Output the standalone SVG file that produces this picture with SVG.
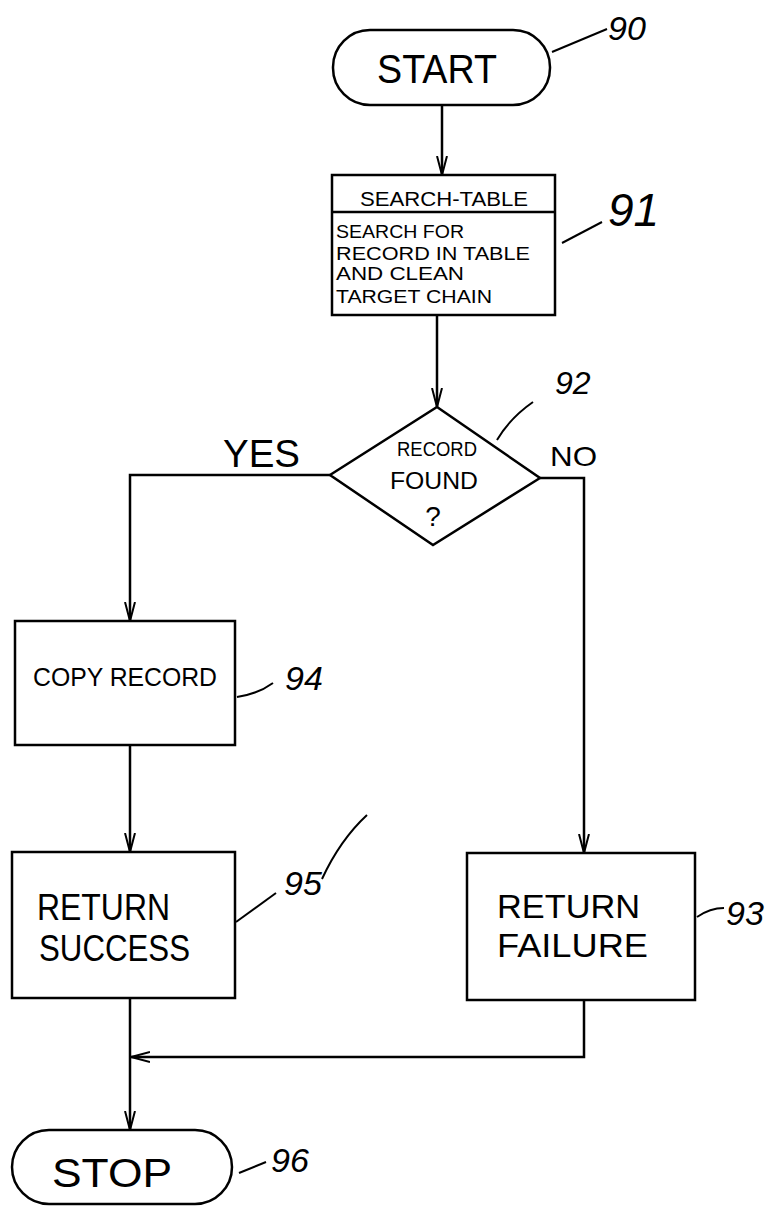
<svg xmlns="http://www.w3.org/2000/svg" width="768" height="1209" viewBox="0 0 768 1209">
<style>
.shape{fill:none;stroke:#000;stroke-width:2.5}
.conn{fill:none;stroke:#000;stroke-width:2.5}
.lead{fill:none;stroke:#000;stroke-width:2}
text{font-family:"Liberation Sans",Arial,sans-serif;fill:#000}
.ref{font-style:italic}
</style>
<defs>
<marker id="arr" viewBox="0 0 20 12" markerWidth="20" markerHeight="12" refX="19" refY="6" orient="auto" markerUnits="userSpaceOnUse">
<path d="M0,1 L19,6 L0,11" fill="none" stroke="#000" stroke-width="2"/>
</marker>
</defs>
<rect width="768" height="1209" fill="#fff"/>
<g id="connectors">
<path class="conn" d="M442,105 V175" marker-end="url(#arr)"/>
<path class="conn" d="M437,315 V407" marker-end="url(#arr)"/>
<path class="conn" d="M330,475 H130 V621" marker-end="url(#arr)"/>
<path class="conn" d="M540,478 H584 V853" marker-end="url(#arr)"/>
<path class="conn" d="M130,745 V852" marker-end="url(#arr)"/>
<path class="conn" d="M130,998 V1130" marker-end="url(#arr)"/>
<path class="conn" d="M584,1000 V1057 H131" marker-end="url(#arr)"/>
</g>
<g id="labels">
<text x="223" y="467" font-size="38" textLength="77" lengthAdjust="spacingAndGlyphs">YES</text>
<text x="550" y="466" font-size="28" textLength="47" lengthAdjust="spacingAndGlyphs">NO</text>
</g>
<g id="n90">
<rect class="shape" x="333" y="30" width="217" height="75" rx="37" ry="37"/>
<text x="377" y="83" font-size="40" textLength="120" lengthAdjust="spacingAndGlyphs">START</text>
<path class="lead" d="M552,52 L607,29"/>
<text class="ref" x="608" y="40" font-size="34">90</text>
</g>
<g id="n91">
<rect class="shape" x="332" y="175" width="223" height="140"/>
<line class="shape" x1="332" y1="212" x2="555" y2="212"/>
<text x="360" y="206" font-size="20" textLength="168" lengthAdjust="spacingAndGlyphs">SEARCH-TABLE</text>
<text x="336" y="238" font-size="19" textLength="128" lengthAdjust="spacingAndGlyphs">SEARCH FOR</text>
<text x="336" y="260" font-size="19" textLength="194" lengthAdjust="spacingAndGlyphs">RECORD IN TABLE</text>
<text x="336" y="280" font-size="19" textLength="128" lengthAdjust="spacingAndGlyphs">AND CLEAN</text>
<text x="336" y="303" font-size="19" textLength="156" lengthAdjust="spacingAndGlyphs">TARGET CHAIN</text>
<path class="lead" d="M562,243 L602,222"/>
<text class="ref" x="608" y="226" font-size="46">91</text>
</g>
<g id="n92">
<polygon class="shape" points="437,407 540,478 433,545 330,475"/>
<text x="397" y="456" font-size="20" textLength="80" lengthAdjust="spacingAndGlyphs">RECORD</text>
<text x="390" y="489" font-size="24" textLength="88" lengthAdjust="spacingAndGlyphs">FOUND</text>
<text x="433" y="526" font-size="28" text-anchor="middle">?</text>
<path class="lead" d="M497,440 Q510,418 533,402"/>
<text class="ref" x="555" y="394" font-size="32">92</text>
</g>
<g id="n94">
<rect class="shape" x="15" y="621" width="220" height="124"/>
<text x="33" y="686" font-size="26" textLength="184" lengthAdjust="spacingAndGlyphs">COPY RECORD</text>
<path class="lead" d="M237,697 Q258,694 273,683"/>
<text class="ref" x="285" y="690" font-size="34">94</text>
</g>
<g id="n95">
<rect class="shape" x="12" y="852" width="223" height="146"/>
<text x="37" y="920" font-size="36" textLength="133" lengthAdjust="spacingAndGlyphs">RETURN</text>
<text x="39" y="961" font-size="36" textLength="151" lengthAdjust="spacingAndGlyphs">SUCCESS</text>
<path class="lead" d="M236,922 L276,893"/>
<text class="ref" x="284" y="895" font-size="34">95</text>
<path class="lead" d="M322,879 Q340,840 367,815"/>
</g>
<g id="n93">
<rect class="shape" x="467" y="853" width="228" height="147"/>
<text x="497" y="918" font-size="34" textLength="143" lengthAdjust="spacingAndGlyphs">RETURN</text>
<text x="497" y="957" font-size="34" textLength="151" lengthAdjust="spacingAndGlyphs">FAILURE</text>
<path class="lead" d="M697,917 Q710,908 724,908"/>
<text class="ref" x="726" y="925" font-size="34">93</text>
</g>
<g id="n96">
<rect class="shape" x="12" y="1130" width="220" height="74" rx="37" ry="37"/>
<text x="52" y="1187" font-size="40" textLength="120" lengthAdjust="spacingAndGlyphs">STOP</text>
<path class="lead" d="M239,1173 L266,1162"/>
<text class="ref" x="271" y="1172" font-size="34">96</text>
</g>
</svg>
